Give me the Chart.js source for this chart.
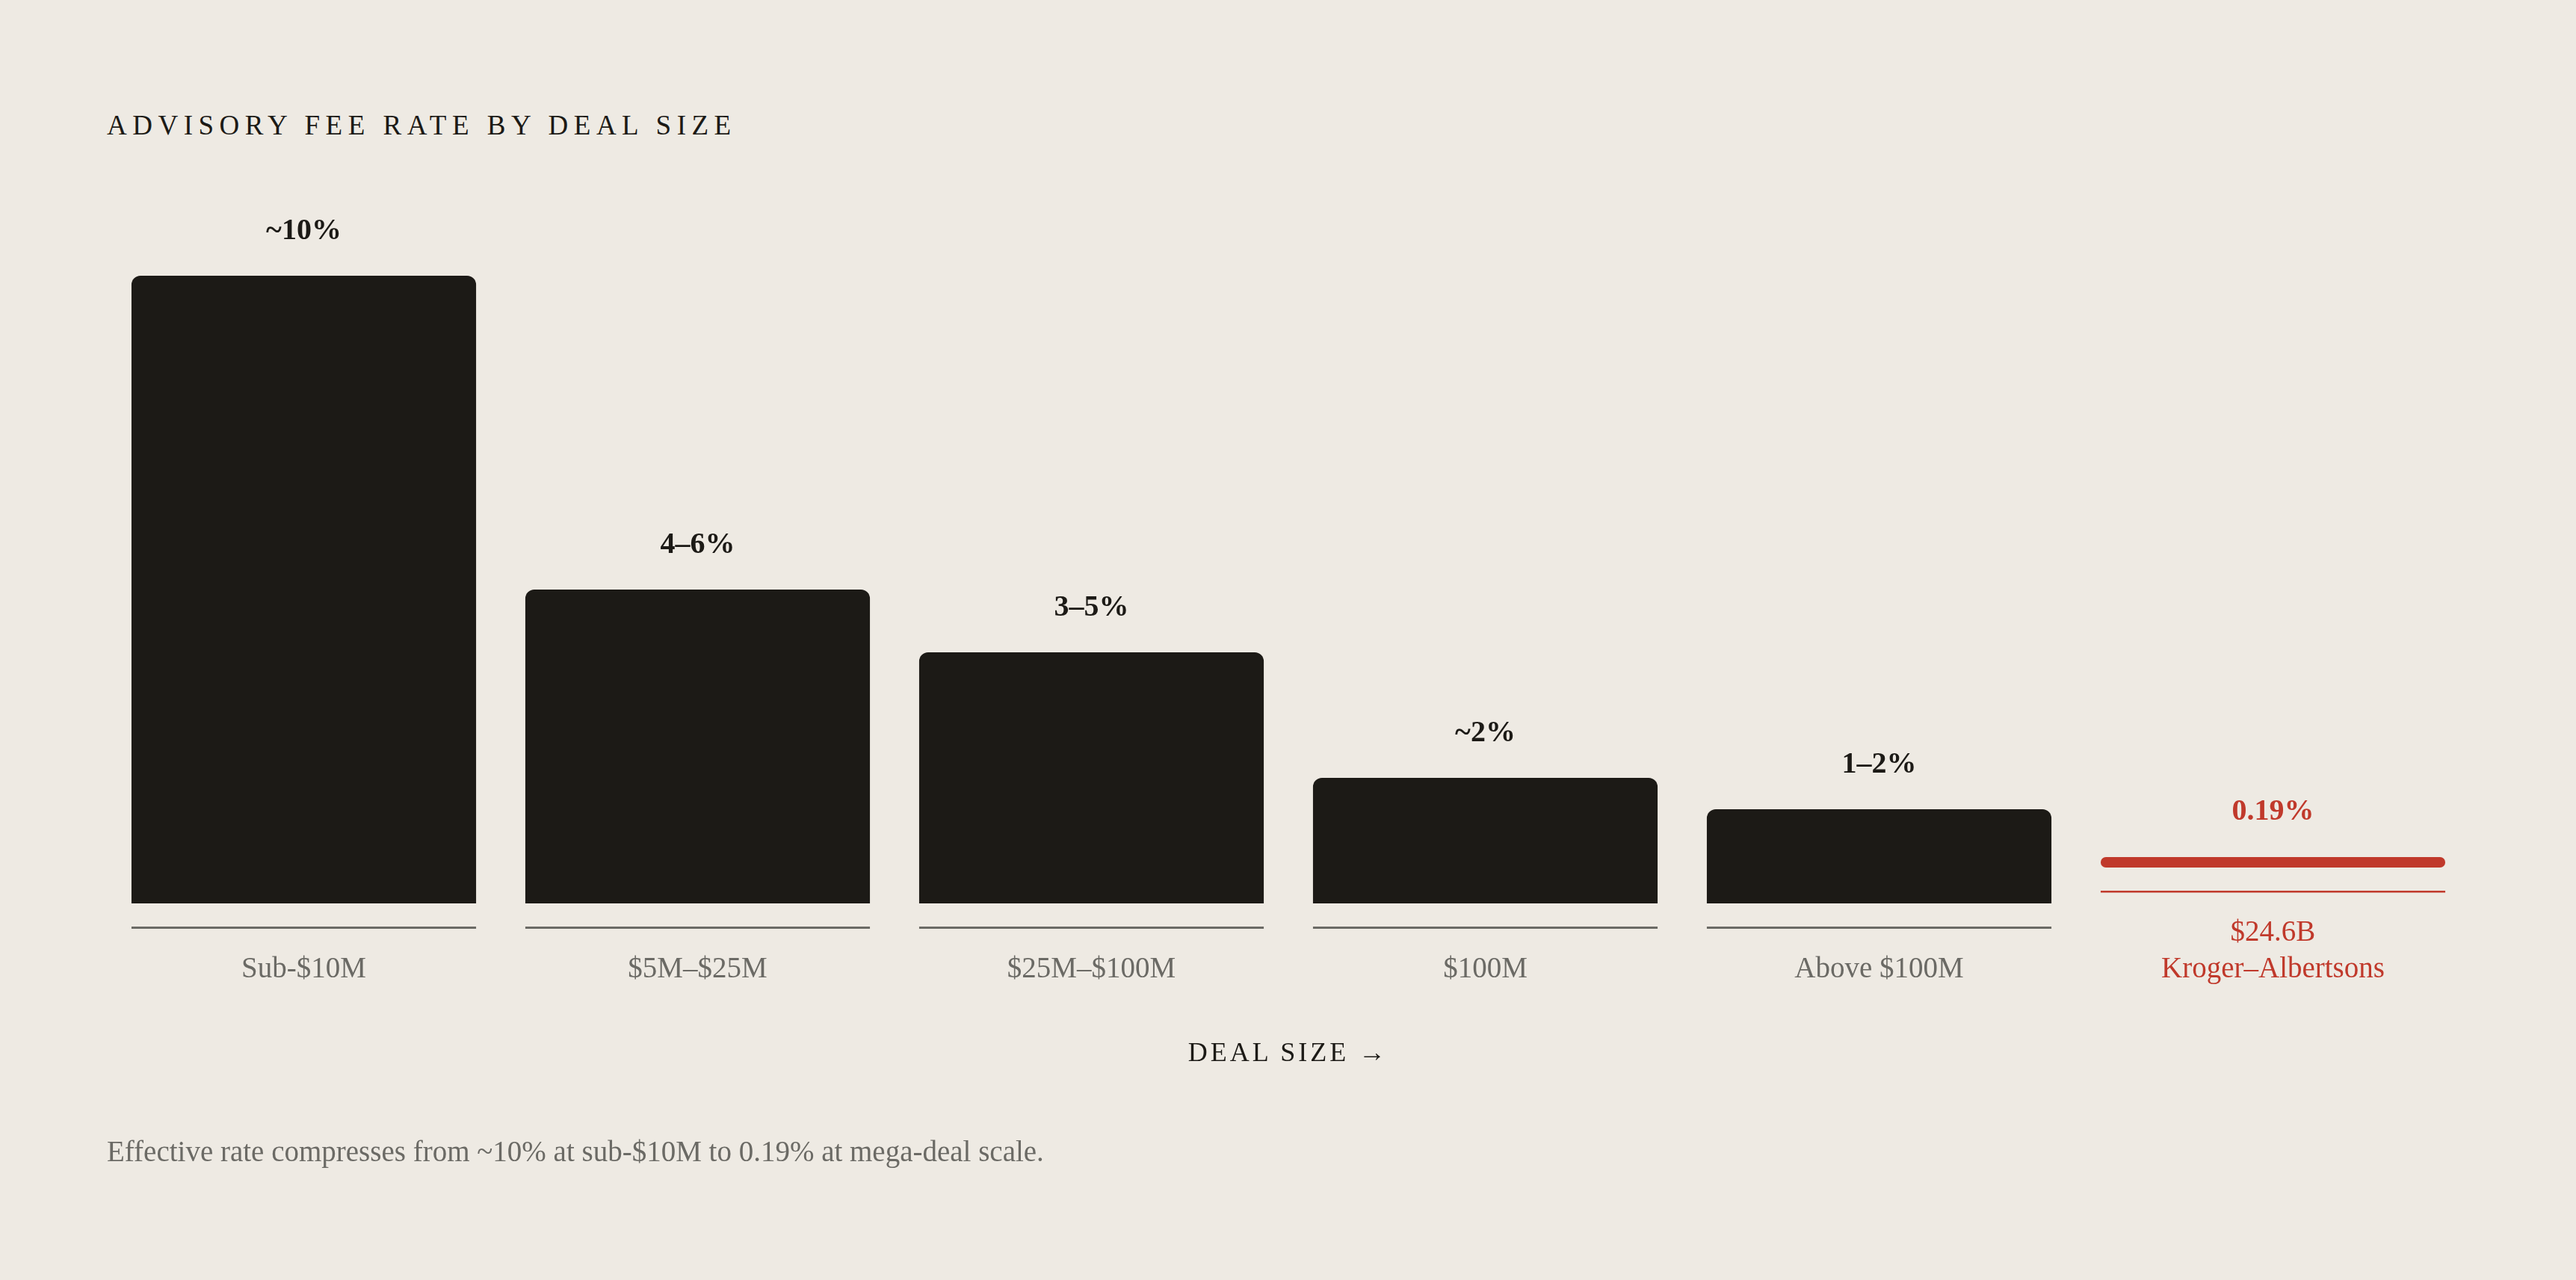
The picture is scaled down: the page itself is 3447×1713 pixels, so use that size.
<!DOCTYPE html>
<html>
<head>
<meta charset="utf-8">
<script src="https://cdn.jsdelivr.net/npm/chart.js@4"></script>
<style>
  html, body { margin: 0; padding: 0; background: #eeeae3; }
  body { width: 3447px; height: 1713px; position: relative; overflow: hidden; font-family: "Liberation Serif", serif; }
  #chart { position: absolute; left: 0; top: 0; }
  .title { position: absolute; left: 143px; top: 146px; font-size: 37px; letter-spacing: 7.5px; color: #1c1a16; }
  .axis { position: absolute; left: 143px; width: 3162px; top: 1387px; text-align: center; font-size: 36px; letter-spacing: 4px; color: #1c1a16; }
  .note { position: absolute; left: 143px; top: 1518px; font-size: 39px; color: #6b6a65; }
</style>
</head>
<body>
<div class="title">ADVISORY FEE RATE BY DEAL SIZE</div>
<canvas id="chart" width="3447" height="1713"></canvas>
<div class="axis">DEAL SIZE →</div>
<div class="note">Effective rate compresses from ~10% at sub-$10M to 0.19% at mega-deal scale.</div>
<script>
"use strict";
const categories = ['Sub-$10M', '$5M–$25M', '$25M–$100M', '$100M', 'Above $100M', ['$24.6B', 'Kroger–Albertsons']];
const feeRates = [10, 5, 4, 2, 1.5, 0.19];
const rateLabels = ['~10%', '4–6%', '3–5%', '~2%', '1–2%', '0.19%'];
const highlightIndex = 5;

const INK = '#1c1a16';
const GREY = '#6b6a65';
const RED = '#c0392b';

// labels, underlines and the red marker for the mega deal
const markPlugin = {
    id: 'marks',
    afterDatasetsDraw(chart) {
        const ctx = chart.ctx;
        const meta = chart.getDatasetMeta(0);
        ctx.save();
        ctx.textAlign = 'center';
        ctx.textBaseline = 'middle';
        meta.data.forEach((bar, i) => {
            const left = bar.x - bar.width / 2;
            const w = bar.width;
            if (i === highlightIndex) {
                ctx.fillStyle = RED;
                ctx.beginPath();
                ctx.roundRect(left, bar.y - 46, w, 14, 7);
                ctx.fill();
                ctx.fillRect(left, bar.y - 1, w, 2.5);
                ctx.font = 'bold 40px "Liberation Serif"';
                ctx.fillText(rateLabels[i], bar.x, bar.y - 106);
                ctx.font = '39px "Liberation Serif"';
                const lines = categories[i];
                ctx.fillText(lines[0], bar.x, bar.base + 40);
                ctx.fillText(lines[1], bar.x, bar.base + 89);
            } else {
                ctx.fillStyle = GREY;
                ctx.fillRect(left, bar.base + 31, w, 3);
                ctx.font = '39px "Liberation Serif"';
                ctx.fillText(categories[i], bar.x, bar.base + 89);
                ctx.fillStyle = INK;
                ctx.font = 'bold 40px "Liberation Serif"';
                ctx.fillText(rateLabels[i], bar.x, bar.y - 59);
            }
        });
        ctx.restore();
    }
};

new Chart(document.getElementById('chart'), {
    type: 'bar',
    data: {
        labels: categories,
        datasets: [{
            data: feeRates,
            backgroundColor: feeRates.map((v, i) => i === highlightIndex ? 'rgba(0,0,0,0)' : INK),
            borderRadius: { topLeft: 12, topRight: 12, bottomLeft: 0, bottomRight: 0 },
            borderSkipped: false,
            categoryPercentage: 1,
            barPercentage: 0.875
        }]
    },
    options: {
        responsive: false,
        animation: false,
        devicePixelRatio: 1,
        layout: { padding: { left: 143, right: 142, top: 369, bottom: 504 } },
        plugins: { legend: { display: false }, tooltip: { enabled: false } },
        scales: {
            x: { display: false },
            y: { display: false, min: 0, max: 10 }
        }
    },
    plugins: [markPlugin]
});
</script>
</body>
</html>
